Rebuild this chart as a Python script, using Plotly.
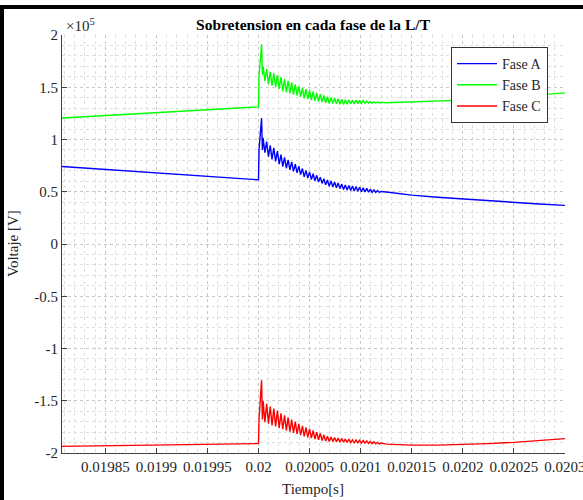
import plotly.graph_objects as go

# ---------------- data ----------------
# time in microseconds relative to t = 0.02 s
t_us = [-192.4, 0.0, 0.5, 3.0, 3.8,
        4.5, 6.25, 8.0, 9.75, 11.5, 13.25, 15.0, 16.75, 18.5, 20.25,
        22.0, 23.75, 25.5, 27.25, 29.0, 30.75, 32.5, 34.25, 36.0, 37.75,
        39.5, 41.25, 43.0, 44.75, 46.5, 48.25, 50.0, 51.75, 53.5, 55.25,
        57.0, 58.75, 60.5, 62.25, 64.0, 65.75, 67.5, 69.25, 71.0, 72.75,
        74.5, 76.25, 78.0, 79.75, 81.5, 83.25, 85.0, 86.75, 88.5, 90.25,
        92.0, 93.75, 95.5, 97.25, 99.0, 100.75,
        102.5, 104.25, 106.0, 107.75, 109.5, 111.25, 113.0, 114.75, 116.5, 118.25, 120.0,
        125, 150, 175, 200, 225, 250, 275, 300]

# voltages in units of 1e5 V
fase_a = [0.741, 0.614, 0.90, 1.204, 0.90,
          1.015, 0.875, 0.98, 0.835, 0.945, 0.81, 0.92, 0.79, 0.89, 0.765,
          0.855, 0.74, 0.83, 0.725, 0.805, 0.71, 0.785, 0.695, 0.765, 0.68,
          0.745, 0.665, 0.722, 0.642, 0.705, 0.63, 0.69, 0.617, 0.672, 0.605,
          0.657, 0.593, 0.64, 0.58, 0.625, 0.566, 0.613, 0.552, 0.603, 0.545,
          0.593, 0.538, 0.583, 0.53, 0.573, 0.522, 0.565, 0.517, 0.561, 0.512,
          0.555, 0.508, 0.55, 0.504, 0.543, 0.50,
          0.538, 0.497, 0.532, 0.495, 0.525, 0.494, 0.518, 0.493, 0.512, 0.493, 0.503,
          0.497, 0.468, 0.447, 0.43, 0.412, 0.397, 0.383, 0.37]

fase_b = [1.206, 1.312, 1.60, 1.911, 1.62,
          1.70, 1.56, 1.675, 1.53, 1.648, 1.515, 1.633, 1.50, 1.618, 1.485,
          1.596, 1.46, 1.579, 1.452, 1.562, 1.441, 1.544, 1.430, 1.527, 1.419,
          1.510, 1.408, 1.494, 1.393, 1.481, 1.386, 1.469, 1.378, 1.457, 1.371,
          1.445, 1.364, 1.433, 1.357, 1.421, 1.350, 1.409, 1.345, 1.403, 1.343,
          1.397, 1.341, 1.391, 1.338, 1.385, 1.336, 1.380, 1.337, 1.379, 1.339,
          1.378, 1.341, 1.377, 1.343, 1.375, 1.345,
          1.372, 1.346, 1.368, 1.347, 1.364, 1.348, 1.361, 1.349, 1.358, 1.350, 1.355,
          1.352, 1.358, 1.366, 1.377, 1.392, 1.41, 1.428, 1.446]

fase_c = [-1.937, -1.910, -1.68, -1.305, -1.68,
          -1.50, -1.705, -1.53, -1.72, -1.555, -1.735, -1.575, -1.745, -1.595, -1.76,
          -1.62, -1.772, -1.64, -1.785, -1.66, -1.795, -1.68, -1.808, -1.70, -1.818,
          -1.72, -1.83, -1.74, -1.842, -1.755, -1.85, -1.77, -1.858, -1.785, -1.866,
          -1.80, -1.873, -1.812, -1.88, -1.827, -1.886, -1.84, -1.889, -1.846, -1.891,
          -1.852, -1.893, -1.858, -1.895, -1.863, -1.897, -1.867, -1.899, -1.870, -1.900,
          -1.873, -1.902, -1.876, -1.903, -1.879, -1.905,
          -1.881, -1.906, -1.884, -1.908, -1.888, -1.910, -1.893, -1.912, -1.898, -1.913, -1.905,
          -1.915, -1.925, -1.925, -1.92, -1.91, -1.898, -1.88, -1.862]

series_names = ["Fase A", "Fase B", "Fase C"]

x_tick_vals = [0.01985, 0.0199, 0.01995, 0.02, 0.02005, 0.0201, 0.02015, 0.0202, 0.02025, 0.0203]
x_tick_text = ["0.01985", "0.0199", "0.01995", "0.02", "0.02005", "0.0201", "0.02015", "0.0202", "0.02025", "0.0203"]
y_tick_vals = [2, 1.5, 1, 0.5, 0, -0.5, -1, -1.5, -2]
y_tick_text = ["2", "1.5", "1", "0.5", "0", "-0.5", "-1", "-1.5", "-2"]

t = [0.02 + u * 1e-6 for u in t_us]

# ---------------- figure ----------------
FONT = "Liberation Serif"
colors = ["#0000ff", "#00ff00", "#ff0000"]

fig = go.Figure()
for name, vals, c in zip(series_names, [fase_a, fase_b, fase_c], colors):
    fig.add_trace(go.Scatter(x=t, y=vals, mode="lines", name=name,
                             line=dict(color=c, width=1.4)))

W, H = 583, 500
ml, mr, mt, mb = 62, 18, 35, 47
pw, ph = W - ml - mr, H - mt - mb

def px_x(px):
    return (px - ml) / pw

def px_y(py):
    return (H - mb - py) / ph

axis_col = "#404040"
txt_col = "#262626"
fig.update_layout(
    width=W, height=H,
    margin=dict(l=ml, r=mr, t=mt, b=mb, autoexpand=False),
    paper_bgcolor="white", plot_bgcolor="white",
    font=dict(family=FONT, size=15, color=txt_col),
    title=dict(text="<b>Sobretension en cada fase de la L/T</b>",
               x=313 / W, xref="container", xanchor="center",
               y=1 - 25 / H, yref="container", yanchor="middle",
               font=dict(family=FONT, size=15.5, color="#000000")),
    showlegend=True,
    legend=dict(x=px_x(451), y=px_y(47), xanchor="left", yanchor="top",
                bgcolor="white", bordercolor="#333333", borderwidth=1,
                font=dict(family=FONT, size=14, color=txt_col),
                tracegroupgap=0, itemwidth=40),
    xaxis=dict(range=[0.0198076, 0.0203001], automargin=False,
               tickmode="array", tickvals=x_tick_vals, ticktext=x_tick_text,
               ticklabeloverflow="allow",
               ticks="inside", ticklen=5, tickcolor=axis_col,
               tickfont=dict(family=FONT, size=15, color=txt_col),
               showline=True, linecolor=axis_col, linewidth=1, mirror=False,
               showgrid=True, gridcolor="#c8c8c8", griddash="dot", gridwidth=1,
               minor=dict(dtick=1e-5, tick0=0.02, showgrid=True,
                          gridcolor="#dedede", griddash="dot", ticks=""),
               zeroline=False),
    yaxis=dict(range=[-2, 2], automargin=False,
               tickmode="array", tickvals=y_tick_vals, ticktext=y_tick_text,
               ticklabeloverflow="allow",
               ticks="inside", ticklen=5, tickcolor=axis_col,
               tickfont=dict(family=FONT, size=15, color=txt_col),
               showline=True, linecolor=axis_col, linewidth=1, mirror=False,
               showgrid=True, gridcolor="#c8c8c8", griddash="dot", gridwidth=1,
               minor=dict(dtick=0.1, tick0=0, showgrid=True,
                          gridcolor="#dedede", griddash="dot", ticks=""),
               zeroline=False),
)

fig.add_annotation(text="×10<sup>5</sup>", xref="paper", yref="paper",
                   x=px_x(64), y=px_y(25), xanchor="left", yanchor="middle",
                   showarrow=False, font=dict(family=FONT, size=15, color=txt_col))
fig.add_annotation(text="Tiempo[s]", xref="paper", yref="paper",
                   x=px_x(313), y=px_y(489), xanchor="center", yanchor="middle",
                   showarrow=False, font=dict(family=FONT, size=15, color=txt_col))
fig.add_annotation(text="Voltaje [V]", xref="paper", yref="paper",
                   x=px_x(13), y=px_y(244), xanchor="center", yanchor="middle",
                   textangle=-90,
                   showarrow=False, font=dict(family=FONT, size=15, color=txt_col))

# black frame edges of the original screenshot (left and top)
fig.add_shape(type="rect", xref="paper", yref="paper",
              x0=px_x(0), x1=px_x(4), y0=px_y(H), y1=px_y(5),
              fillcolor="black", line=dict(width=0), layer="above")
fig.add_shape(type="rect", xref="paper", yref="paper",
              x0=px_x(0), x1=px_x(W), y0=px_y(9), y1=px_y(5),
              fillcolor="black", line=dict(width=0), layer="above")

fig.write_html("out.html",
               config={"displayModeBar": False},
               post_script="document.body.style.margin='0';document.body.style.padding='0';document.body.style.overflow='hidden';")
